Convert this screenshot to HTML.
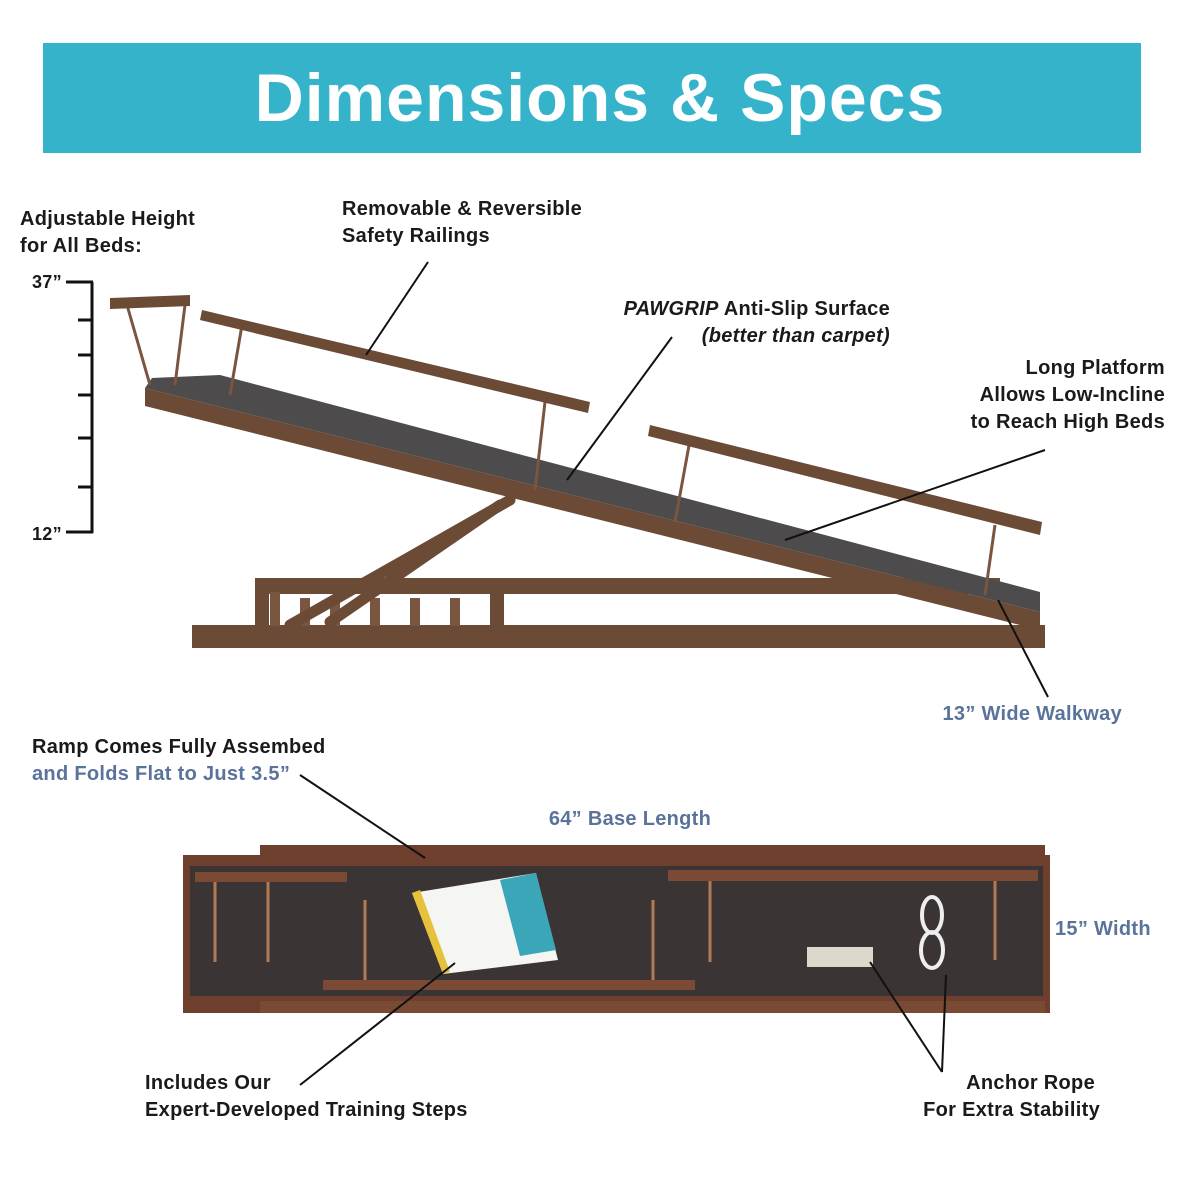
<!DOCTYPE html>
<html><head><meta charset="utf-8"><style>
html,body{margin:0;padding:0;background:#fff;}
svg{display:block;}
text{font-family:"Liberation Sans",sans-serif;font-weight:bold;letter-spacing:0.3px;}
</style></head><body>
<svg width="1184" height="1184" viewBox="0 0 1184 1184" xmlns="http://www.w3.org/2000/svg">
<rect x="43" y="43" width="1098" height="110" fill="#35b3cb"/>
<text x="600" y="121" text-anchor="middle" font-size="68" fill="#fff" style="letter-spacing:1px">Dimensions &amp; Specs</text>

<g font-size="20" fill="#1a1a1a">
<text x="20" y="225">Adjustable Height</text>
<text x="20" y="252">for All Beds:</text>
<text x="342" y="215">Removable &amp; Reversible</text>
<text x="342" y="242">Safety Railings</text>
<text x="890" y="315" text-anchor="end"><tspan font-style="italic">PAWGRIP</tspan> Anti-Slip Surface</text>
<text x="890" y="342" text-anchor="end" font-style="italic">(better than carpet)</text>
<text x="1165" y="374" text-anchor="end">Long Platform</text>
<text x="1165" y="401" text-anchor="end">Allows Low-Incline</text>
<text x="1165" y="428" text-anchor="end">to Reach High Beds</text>
<text x="32" y="753">Ramp Comes Fully Assembed</text>
<text x="145" y="1089">Includes Our</text>
<text x="145" y="1116">Expert-Developed Training Steps</text>
<text x="1095" y="1089" text-anchor="end">Anchor Rope</text>
<text x="1100" y="1116" text-anchor="end">For Extra Stability</text>
<text x="32" y="288" font-size="18">37”</text>
<text x="32" y="540" font-size="18">12”</text>
</g>
<g font-size="20" fill="#5a739a">
<text x="32" y="780">and Folds Flat to Just 3.5”</text>
<text x="1122" y="720" text-anchor="end">13” Wide Walkway</text>
<text x="630" y="825" text-anchor="middle">64” Base Length</text>
<text x="1055" y="935">15” Width</text>
</g>

<g stroke="#111" stroke-width="3">
<line x1="92" y1="282" x2="92" y2="533"/>
<line x1="66" y1="282" x2="93" y2="282"/><line x1="66" y1="532" x2="93" y2="532"/>
<line x1="78" y1="320" x2="92" y2="320"/><line x1="78" y1="355" x2="92" y2="355"/>
<line x1="78" y1="395" x2="92" y2="395"/><line x1="78" y1="438" x2="92" y2="438"/>
<line x1="78" y1="487" x2="92" y2="487"/>
</g>

<g fill="#6b4a36">
<polygon points="255,578 1000,578 1000,594 255,594"/>
<polygon points="192,625 1045,625 1045,648 192,648"/>
<rect x="255" y="578" width="14" height="60"/>
<rect x="490" y="590" width="14" height="40"/>
</g>
<g fill="#7a5540">
<rect x="270" y="592" width="10" height="34"/><rect x="300" y="598" width="10" height="28"/>
<rect x="330" y="598" width="10" height="28"/><rect x="370" y="598" width="10" height="28"/>
<rect x="410" y="598" width="10" height="28"/><rect x="450" y="598" width="10" height="28"/>
</g>
<g stroke="#6b4a36" stroke-width="11" stroke-linecap="round">
<line x1="290" y1="625" x2="510" y2="500"/>
<line x1="330" y1="622" x2="500" y2="505"/>
</g>
<polygon points="145,388 1040,612 1040,630 145,406" fill="#6b4a36"/>
<polygon points="152,378 220,375 1040,592 1040,612 145,388" fill="#4d4b4b"/>
<g stroke="#7a5540" stroke-width="3">
<line x1="127" y1="305" x2="150" y2="385"/><line x1="185" y1="305" x2="175" y2="385"/>
<line x1="242" y1="325" x2="230" y2="395"/><line x1="545" y1="402" x2="535" y2="490"/>
<line x1="690" y1="440" x2="675" y2="522"/><line x1="995" y1="525" x2="985" y2="595"/>
</g>
<polygon points="110,298 190,295 190,306 110,309" fill="#6b4a36"/>
<polygon points="202,310 590,402 588,413 200,320" fill="#6b4a36"/>
<polygon points="650,425 1042,522 1040,535 648,436" fill="#6b4a36"/>

<rect x="260" y="845" width="785" height="12" fill="#6e3f2c"/>
<rect x="183" y="855" width="867" height="158" fill="#6e3f2c"/>
<rect x="260" y="1001" width="785" height="12" fill="#7a4a34"/>
<rect x="190" y="866" width="853" height="130" fill="#3b3434"/>
<rect x="195" y="872" width="152" height="10" fill="#7a4a34"/>
<rect x="668" y="870" width="370" height="11" fill="#7a4a34"/>
<rect x="323" y="980" width="372" height="10" fill="#7a4a34"/>
<g stroke="#b07a55" stroke-width="3">
<line x1="215" y1="882" x2="215" y2="962"/><line x1="268" y1="882" x2="268" y2="962"/>
<line x1="365" y1="900" x2="365" y2="980"/><line x1="653" y1="900" x2="653" y2="980"/>
<line x1="710" y1="881" x2="710" y2="962"/><line x1="995" y1="881" x2="995" y2="960"/>
</g>
<polygon points="412,893 536,873 558,960 443,974" fill="#f5f5f2"/>
<polygon points="500,880 536,873 556,950 520,956" fill="#3aa6b8"/>
<polygon points="412,893 420,890 450,972 443,974" fill="#e6c23a"/>
<rect x="807" y="947" width="66" height="20" fill="#ddd8cc"/>
<g stroke="#eee" stroke-width="4" fill="none">
<ellipse cx="932" cy="915" rx="10" ry="18"/><ellipse cx="932" cy="950" rx="11" ry="18"/>
</g>

<g stroke="#111" stroke-width="2">
<line x1="428" y1="262" x2="366" y2="355"/>
<line x1="672" y1="337" x2="567" y2="480"/>
<line x1="1045" y1="450" x2="785" y2="540"/>
<line x1="1048" y1="697" x2="998" y2="600"/>
<line x1="300" y1="775" x2="425" y2="858"/>
<line x1="300" y1="1085" x2="455" y2="963"/>
<line x1="942" y1="1072" x2="870" y2="962"/>
<line x1="942" y1="1072" x2="946" y2="975"/>
</g>
</svg>
</body></html>
